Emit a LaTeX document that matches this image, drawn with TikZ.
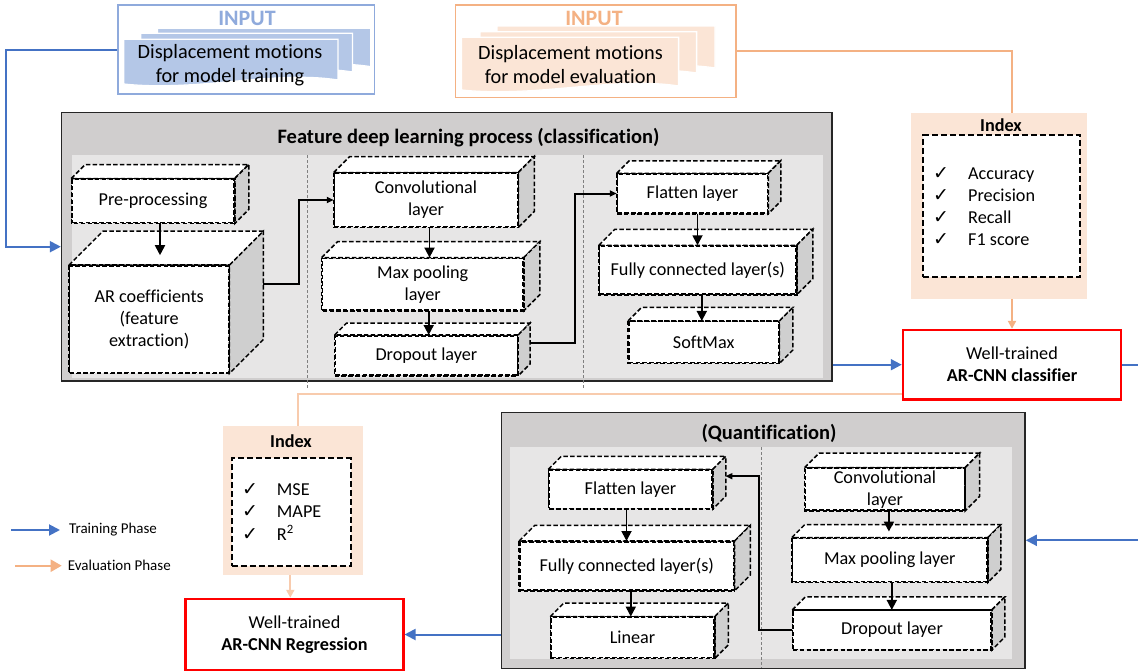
\documentclass[tikz,border=0pt]{standalone}
\usepackage{fontspec}
\setmainfont{Carlito}[Ligatures=NoCommon]
\newfontfamily\chkfont{DejaVu Sans}
\usetikzlibrary{arrows.meta,calc}
\definecolor{tblue}{HTML}{4472C4}
\definecolor{eorange}{HTML}{F4B183}
\definecolor{eorangeb}{HTML}{F8CBAD}
\definecolor{peach}{HTML}{FBE5D6}
\definecolor{lblue}{HTML}{B4C7E7}
\definecolor{bblue}{HTML}{8FAADC}
\definecolor{boxgray}{HTML}{D0CECE}
\definecolor{panelgray}{HTML}{E7E6E6}
\definecolor{sidegray}{HTML}{CFCFCF}
\newcommand\txtsz{\fontsize{18.2}{22}\selectfont}
\newcommand\docsz{\fontsize{20.3}{24}\selectfont}
\newcommand\lstsz{\fontsize{18.2}{22.2}\selectfont}
\newcommand\ttlsz{\fontsize{20.5}{24}\selectfont}
\newcommand\inpsz{\fontsize{22}{26}\selectfont}
\newcommand\lgsz{\fontsize{15}{18}\selectfont}
\newcommand\chkA{\makebox[35pt][l]{\chkfont\fontsize{19}{19}\selectfont ✓}}
\newcommand\chkB{\makebox[34.7pt][l]{\chkfont\fontsize{19}{19}\selectfont ✓}}
\newcommand\cubefaces[2]{%
  \filldraw[cubeline, fill=white] (#1.north west) -- ++(#2,-#2) -- ($(#1.north east)+(#2,-#2)$) -- (#1.north east) -- cycle;
  \filldraw[cubeline, fill=sidegray] (#1.north east) -- ++(#2,-#2) -- ($(#1.south east)+(#2,-#2)$) -- (#1.south east) -- cycle;
  \draw[cubeline] (#1.north west) rectangle (#1.south east);}
\newcommand\docshape[5]{%
  \pgfmathsetmacro\dxa{#3-0.3*(#3-#1)}%
  \pgfmathsetmacro\dxb{#1+0.35*(#3-#1)}%
  \filldraw[fill=#5, draw=white, line width=1.3pt] (#1,#2) -- (#3,#2) -- (#3,#4-4) .. controls (\dxa,#4-14) and (\dxb,#4+8) .. (#1,#4) -- cycle;}
\begin{document}
\begin{tikzpicture}[x=1pt,y=-1pt,
  cubeline/.style={draw=black, line width=1.5pt, dash pattern=on 4.5pt off 2.3pt},
  cube/.style={cubeline, fill=white, inner sep=0pt, align=center, font=\txtsz},
  arr/.style={draw=black, line width=1.8pt, -{Triangle[width=10pt,length=10pt]}},
  arrs/.style={draw=black, line width=2pt, -{Triangle[width=6pt,length=7pt]}},
  blu/.style={draw=tblue, line width=2pt},
  bluarr/.style={blu, -{Triangle[width=11pt,length=11pt]}},
  org/.style={draw=eorange, line width=2.2pt},
  orgarr/.style={org, -{Triangle[width=8pt,length=8pt]}},
  orgb/.style={draw=eorangeb, line width=2.2pt},
  orgbarr/.style={orgb, -{Triangle[width=8pt,length=8pt]}},
  sepline/.style={draw=gray, line width=0.6pt, dash pattern=on 3pt off 2pt},
  redbox/.style={draw=red, line width=2.5pt, fill=white, align=center, font=\txtsz, inner sep=0pt},
  peachbox/.style={fill=peach, inner sep=0pt},
  dbox/.style={draw=black, line width=2pt, dash pattern=on 6pt off 3pt, fill=white, inner sep=0pt},
  bigbox/.style={fill=boxgray, draw=black!85, line width=1.6pt, inner sep=0pt},
  panel/.style={fill=panelgray, inner sep=0pt},
  inbox/.style={fill=white, line width=1.5pt, inner sep=0pt}
]
\useasboundingbox (0,0) rectangle (1138,672);
\fill[white] (0,0) rectangle (1138,672);

% ---------- input boxes ----------
\node[inbox, draw=bblue, minimum width=256.9pt, minimum height=89pt] (tr) at (246.2,49.5) {};
\node[font=\inpsz\bfseries, text=bblue] (trin) at (247,18) {INPUT};
\docshape{157.5}{28.3}{370.8}{70.7}{lblue}
\docshape{140.6}{33.3}{352.4}{76}{lblue}
\docshape{123.6}{39.3}{337.9}{84}{lblue}
\node[font=\docsz, align=center] (trtxt) at (230,65) {Displacement motions\\for model training};

\node[inbox, draw=eorange, minimum width=280.2pt, minimum height=92.3pt] (ev) at (595.7,51.2) {};
\node[font=\inpsz\bfseries, text=eorange] (evin) at (594,18) {INPUT};
\docshape{497}{26}{715}{72}{peach}
\docshape{480}{31.7}{696.6}{77}{peach}
\docshape{461.5}{37.3}{678.6}{90}{peach}
\node[font=\docsz, align=center] (evtxt) at (570.5,65) {Displacement motions\\for model evaluation};

% ---------- classification box ----------
\node[bigbox, minimum width=770.3pt, minimum height=268.5pt] (main) at (446.8,246.7) {};
\node[panel, minimum width=751pt, minimum height=223pt] (mpanel) at (447.5,266.5) {};
\node[font=\ttlsz\bfseries] (mtitle) at (468.5,138) {Feature deep learning process (classification)};
\draw[sepline] (307,155) -- (307,388);
\draw[sepline] (583.5,155) -- (583.5,388);

\node[cube, minimum width=162pt, minimum height=43.4pt] (pre) at (153,201) {Pre-processing};
\cubefaces{pre}{14}
\node[cube, minimum width=159pt, minimum height=106.7pt] (ar) at (149.2,319.3) {AR coefficients\\(feature\\extraction)};
\cubefaces{ar}{34}
\node[cube, minimum width=183pt, minimum height=53.4pt] (conv) at (426,200) {Convolutional\\layer};
\cubefaces{conv}{16}
\node[cube, minimum width=200.6pt, minimum height=51.7pt] (maxp) at (422.7,284.2) {Max pooling\\layer};
\cubefaces{maxp}{16}
\node[cube, minimum width=182pt, minimum height=39.3pt] (drop) at (426.4,355.4) {Dropout layer};
\cubefaces{drop}{12}
\node[cube, minimum width=150pt, minimum height=39pt] (flat) at (692.5,193.5) {Flatten layer};
\cubefaces{flat}{12.5}
\node[cube, minimum width=196.4pt, minimum height=48pt] (fc) at (697.8,270) {Fully connected layer(s)};
\cubefaces{fc}{16}
\node[cube, minimum width=149.8pt, minimum height=41pt] (soft) at (703.7,342.2) {SoftMax};
\cubefaces{soft}{13.5}

\draw[arr] ($(pre.south)+(7,0)$) coordinate (t1) -- ($(t1 |- ar.north)+(0,-10)$);
\draw[arr] ($(conv.south)+(3.5,0)$) coordinate (t2) -- (t2 |- maxp.north);
\draw[arr] ($(maxp.south)+(6,0)$) coordinate (t3) -- (t3 |- drop.north);
\draw[arr] ($(flat.south)+(5,0)$) coordinate (t4) -- (t4 |- fc.north);
\draw[arr] ($(fc.south)+(4,0)$) coordinate (t5) -- (t5 |- soft.north);
\draw[arrs] ($(ar.east)+(34,-35)$) -- ++(35.6,0) |- (conv.west);
\draw[arrs] ($(drop.east)+(12.5,-12)$) -- ++(44,0) |- (flat.west);

% ---------- index (classification) ----------
\node[peachbox, minimum width=176pt, minimum height=186pt] (idx1) at (999,206) {};
\node[font=\txtsz\bfseries] (idx1t) at (1001,125) {Index};
\node[dbox, minimum width=156.6pt, minimum height=142.3pt] (idx1d) at (1001.7,206.2) {};
\node[anchor=west, font=\lstsz, align=left, inner sep=0pt] (idx1l) at (933,206.7) {\chkA Accuracy\\\chkA Precision\\\chkA Recall\\\chkA F1 score};

\node[redbox, minimum width=218pt, minimum height=69.3pt] (cls) at (1012,364.7) {Well-trained\\\textbf{AR-CNN classifier}};

% ---------- index (regression) ----------
\node[peachbox, minimum width=140pt, minimum height=149pt] (idx2) at (293.3,500.5) {};
\node[font=\txtsz\bfseries] (idx2t) at (291,440.7) {Index};
\node[dbox, minimum width=119pt, minimum height=107.4pt] (idx2d) at (291.2,512) {};
\node[anchor=west, font=\lstsz, align=left, inner sep=0pt] (idx2l) at (242,512) {\chkB MSE\\\chkB MAPE\\\chkB R\textsuperscript{2}};

\node[redbox, minimum width=217.6pt, minimum height=71pt] (reg) at (294.5,634.5) {Well-trained\\\textbf{AR-CNN Regression}};

% ---------- quantification box ----------
\node[bigbox, minimum width=523.4pt, minimum height=256pt] (quant) at (763.3,540.3) {};
\node[panel, minimum width=501.7pt, minimum height=212.6pt] (qpanel) at (760.65,553) {};
\node[font=\ttlsz\bfseries] (qtitle) at (769,433.3) {(Quantification)};
\draw[sepline] (761.5,447) -- (761.5,668);

\node[cube, minimum width=163pt, minimum height=38.3pt] (qflat) at (630.5,489.2) {Flatten layer};
\cubefaces{qflat}{13}
\node[cube, minimum width=214pt, minimum height=48.3pt] (qfc) at (626.8,565.9) {Fully connected layer(s)};
\cubefaces{qfc}{15.7}
\node[cube, minimum width=163pt, minimum height=40.4pt] (qlin) at (632.5,637.5) {Linear};
\cubefaces{qlin}{13.5}
\node[cube, minimum width=159pt, minimum height=41.7pt] (qconv) at (884.9,489.2) {Convolutional\\layer};
\cubefaces{qconv}{14.5}
\node[cube, minimum width=194.5pt, minimum height=43.4pt] (qmax) at (889.8,560) {Max pooling layer};
\cubefaces{qmax}{13}
\node[cube, minimum width=198pt, minimum height=38.6pt] (qdrop) at (892,630) {Dropout layer};
\cubefaces{qdrop}{13}

\draw[arr] ($(qflat.south)+(-4,0)$) coordinate (q1) -- (q1 |- qfc.north);
\draw[arr] ($(qfc.south)+(4,0)$) coordinate (q2) -- (q2 |- qlin.north);
\draw[arr] ($(qconv.south)+(4,0)$) coordinate (q3) -- ($(q3 |- qmax.north)+(0,-6)$);
\draw[arr] ($(qmax.south)+(2,0)$) coordinate (q4) -- (q4 |- qdrop.north);
\draw[arrs] (qdrop.west) -- ++(-33.6,0) |- ($(qflat.east)+(12.7,-13)$);

% ---------- phase connectors ----------
\draw[bluarr] (tr.west) -- ++(-111,0) |- (main.west);
\draw[bluarr] (main.east |- cls.west) -- (cls.west);
\coordinate (edgeA) at (1138,364.7);
\draw[blu] (cls.east) -- (edgeA);
\coordinate (edgeB) at (1138,540.3);
\draw[bluarr] (edgeB) -- (quant.east);
\draw[bluarr] (quant.west |- reg.east) -- (reg.east);

\draw[org] (ev.east) -| (idx1.north -| cls.north);
\draw[orgarr] (idx1.south -| cls.north) -- (cls.north);
\draw[orgb] ($(cls.south west)+(0,-6.5)$) -| ($(idx2.north)+(5,0)$);
\draw[orgbarr] ($(idx2.south)+(-3,0)$) coordinate (o2) -- (o2 |- reg.north);

% ---------- legend ----------
\coordinate (lgA) at (11,530);
\coordinate (lgB) at (60,530);
\draw[bluarr] (lgA) -- (lgB);
\node[anchor=west, font=\lgsz, inner sep=0pt] (lgT) at (69,530) {Training Phase};
\coordinate (lgC) at (15,565.7);
\coordinate (lgD) at (61.7,565.7);
\draw[draw=eorange, line width=2.2pt, -{Triangle[width=12pt,length=11pt]}] (lgC) -- (lgD);
\node[anchor=west, font=\lgsz, inner sep=0pt] (lgE) at (67.7,565.7) {Evaluation Phase};
\end{tikzpicture}
\end{document}
